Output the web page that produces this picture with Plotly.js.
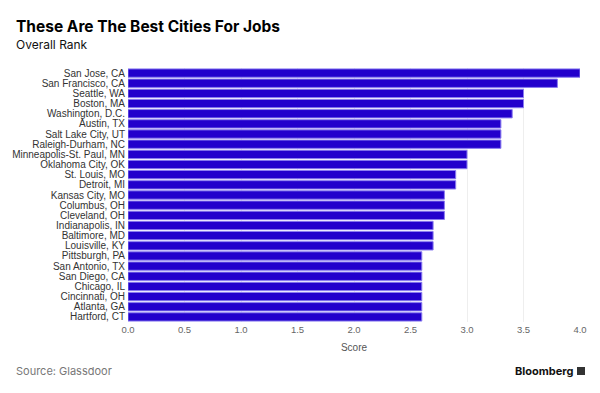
<!DOCTYPE html>
<html>
<head>
<meta charset="utf-8">
<script src="https://cdn.plot.ly/plotly-3.0.1.min.js"></script>
<style>html,body{margin:0;padding:0;background:#fff;}#chart{width:600px;height:393px;}</style>
</head>
<body>
<div id="chart"></div>
<script>
const cities = ["San Jose, CA","San Francisco, CA","Seattle, WA","Boston, MA","Washington, D.C.","Austin, TX","Salt Lake City, UT","Raleigh-Durham, NC","Minneapolis-St. Paul, MN","Oklahoma City, OK","St. Louis, MO","Detroit, MI","Kansas City, MO","Columbus, OH","Cleveland, OH","Indianapolis, IN","Baltimore, MD","Louisville, KY","Pittsburgh, PA","San Antonio, TX","San Diego, CA","Chicago, IL","Cincinnati, OH","Atlanta, GA","Hartford, CT"];
const scores = [4.0,3.8,3.5,3.5,3.4,3.3,3.3,3.3,3.0,3.0,2.9,2.9,2.8,2.8,2.8,2.7,2.7,2.7,2.6,2.6,2.6,2.6,2.6,2.6,2.6];
const xTicks = [0,0.5,1.0,1.5,2.0,2.5,3.0,3.5,4.0];
const xTickLabels = ["0.0","0.5","1.0","1.5","2.0","2.5","3.0","3.5","4.0"];

const trace = {
  type: "bar",
  orientation: "h",
  x: scores,
  y: cities,
  marker: {color: "#2200cc", line: {color: "#8a7cf0", width: 1}},
  width: 0.82,
  hoverinfo: "x+y"
};

const PW = 452, PH = 254;
const px = v => (v - 128) / PW;

const layout = {
  width: 600, height: 393,
  margin: {l: 128, r: 20, t: 68, b: 71},
  paper_bgcolor: "#fff", plot_bgcolor: "#fff",
  font: {family: "'Liberation Sans', Arial, sans-serif", color: "#333"},
  showlegend: false,
  xaxis: {
    range: [0, 4.0],
    tickmode: "array", tickvals: xTicks, ticktext: xTickLabels,
    showgrid: true, gridcolor: "#eeeeee", gridwidth: 1,
    zeroline: false, showline: false, ticks: "",
    tickfont: {size: 9.5, color: "#666"},
    title: {text: "Score", font: {size: 10, color: "#555"}, standoff: 10},
    fixedrange: true
  },
  yaxis: {
    type: "category",
    autorange: "reversed",
    tickmode: "array", tickvals: cities, ticktext: cities,
    showgrid: false, zeroline: false, showline: false, ticks: "",
    tickfont: {size: 10, color: "#333"},
    ticklabelstandoff: 2,
    fixedrange: true
  },
  annotations: [
    {xref: "paper", yref: "paper", x: px(14), y: 1 + 42/PH, xanchor: "left", yanchor: "middle",
     text: "<b>These Are The Best Cities For Jobs</b>", showarrow: false,
     font: {size: 15.5, color: "#000", family: "Inter, 'Liberation Sans', sans-serif"}},
    {xref: "paper", yref: "paper", x: px(14), y: 1 + 23/PH, xanchor: "left", yanchor: "middle",
     text: "Overall Rank", showarrow: false,
     font: {size: 12, color: "#111", family: "Inter, 'Liberation Sans', sans-serif"}},
    {xref: "paper", yref: "paper", x: px(14), y: -49/PH, xanchor: "left", yanchor: "middle",
     text: "Source: Glassdoor", showarrow: false,
     font: {size: 11, color: "#777", family: "Inter, 'Liberation Sans', sans-serif"}},
    {xref: "paper", yref: "paper", x: px(575), y: -49/PH, xanchor: "right", yanchor: "middle",
     text: "<b>Bloomberg</b>", showarrow: false,
     font: {size: 11, color: "#111", family: "Inter, 'Liberation Sans', sans-serif"}}
  ],
  shapes: [
    {type: "rect", xref: "paper", yref: "paper", x0: px(577), x1: px(585), y0: -53/PH, y1: -45/PH,
     fillcolor: "#333", line: {width: 0}}
  ]
};

Plotly.newPlot("chart", [trace], layout, {displayModeBar: false, staticPlot: true});
</script>
</body>
</html>
